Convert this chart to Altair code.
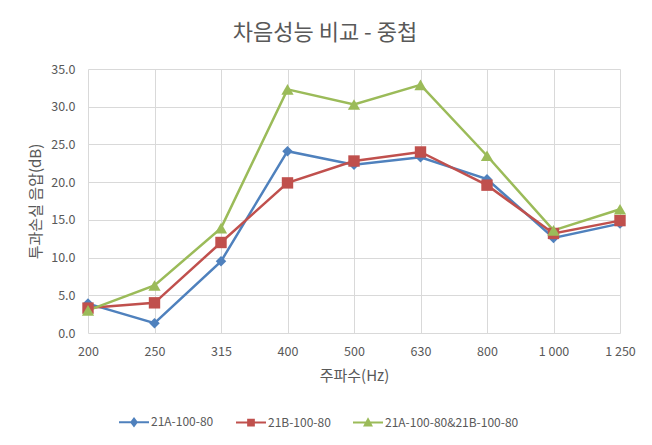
import altair as alt
import pandas as pd

freqs = ["200", "250", "315", "400", "500", "630", "800", "1 000", "1 250"]
series_names = ["21A-100-80", "21B-100-80", "21A-100-80&21B-100-80"]
s_21a = [3.9, 1.3, 9.5, 24.1, 22.3, 23.3, 20.4, 12.6, 14.5]
s_21b = [3.3, 4.0, 12.0, 19.9, 22.8, 24.0, 19.6, 13.2, 14.9]
s_both = [3.0, 6.3, 13.9, 32.3, 30.3, 32.9, 23.5, 13.6, 16.4]
colors = ["#4F81BD", "#C0504D", "#9BBB59"]
shapes = ["diamond", "square", "triangle-up"]
sizes = [110, 130, 150]
legend_paths = [
    "M-1,0L1,0M0,-0.24L0.18,0L0,0.24L-0.18,0Z",
    "M-1,0L1,0M-0.19,-0.19L0.19,-0.19L0.19,0.19L-0.19,0.19Z",
    "M-1,0L1,0M0,-0.22L0.22,0.19L-0.22,0.19Z",
]

rows = []
for name, vals in zip(series_names, [s_21a, s_21b, s_both]):
    for f, v in zip(freqs, vals):
        rows.append({"freq": f, "series": name, "value": v})
df = pd.DataFrame(rows)

FONT = "Noto Sans CJK KR"
GRAY = "#595959"

axis_style = dict(
    labelFont=FONT,
    titleFont=FONT,
    labelFontSize=12.5,
    titleFontSize=15,
    labelColor=GRAY,
    titleColor=GRAY,
    titleFontWeight="normal",
    ticks=False,
    domain=False,
    grid=True,
    gridColor="#D9D9D9",
)

color_scale = alt.Scale(domain=series_names, range=colors)
legend = alt.Legend(
    title=None,
    orient="none",
    legendX=30,
    legendY=337,
    direction="horizontal",
    symbolSize=900,
    symbolStrokeWidth=2,
    labelFont=FONT,
    labelFontSize=12,
    labelColor=GRAY,
    labelOffset=1,
    columnPadding=18,
)

x_enc = alt.X(
    "freq:N",
    sort=freqs,
    scale=alt.Scale(domain=freqs, padding=0),
    axis=alt.Axis(
        title="주파수(Hz)",
        labelAngle=0,
        labelPadding=12,
        titlePadding=11,
        **axis_style,
    ),
)
y_enc = alt.Y(
    "value:Q",
    scale=alt.Scale(domain=[0, 35], nice=False),
    axis=alt.Axis(
        title="투과손실 음압(dB)",
        values=[0, 5, 10, 15, 20, 25, 30, 35],
        format=".1f",
        labelPadding=13,
        titlePadding=7,
        **axis_style,
    ),
)

base = alt.Chart(df)

legend_layer = base.mark_point(opacity=1, size=1, strokeWidth=2).encode(
    x=x_enc,
    y=y_enc,
    fill=alt.Fill("series:N", scale=color_scale, legend=legend),
    stroke=alt.Stroke("series:N", scale=color_scale, legend=legend),
    shape=alt.Shape("series:N", scale=alt.Scale(domain=series_names, range=legend_paths), legend=legend),
)

lines = base.mark_line(strokeWidth=2.5).encode(
    x=x_enc,
    y=y_enc,
    color=alt.Color("series:N", scale=color_scale, legend=None),
    detail="series:N",
)
point_layers = []
for name, shp, sz in zip(series_names, shapes, sizes):
    point_layers.append(
        base.transform_filter(alt.datum.series == name)
        .mark_point(filled=True, opacity=1, shape=shp, size=sz)
        .encode(
            x=x_enc,
            y=y_enc,
            color=alt.Color("series:N", scale=color_scale, legend=None),
        )
    )

chart = (
    alt.layer(legend_layer, lines, *point_layers)
    .properties(
        width=532,
        height=264,
        background="white",
        title=alt.TitleParams(
            "차음성능 비교 - 중첩",
            font=FONT,
            fontSize=22,
            fontWeight="normal",
            color=GRAY,
            offset=18,
            dx=-29,
        ),
        autosize=alt.AutoSizeParams(type="none"),
        padding={"left": 88, "top": 69, "right": 32, "bottom": 112},
    )
    .configure_view(stroke=None)
)

chart.save("out.html", embed_options={"renderer": "svg", "actions": False})
